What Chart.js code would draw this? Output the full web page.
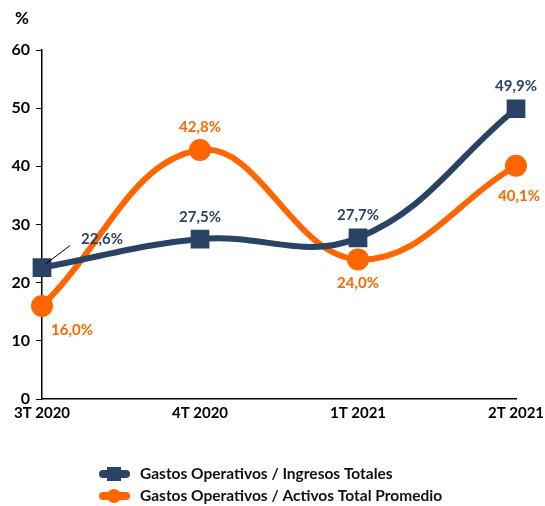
<!DOCTYPE html>
<html>
<head>
<meta charset="utf-8">
<script src="https://cdn.jsdelivr.net/npm/chart.js@4.4.1/dist/chart.umd.min.js"></script>
<style>
  html, body { margin: 0; padding: 0; background: #fff; }
  #wrap { width: 545px; height: 506px; }
</style>
</head>
<body>
<div id="wrap"><canvas id="chart" width="545" height="506"></canvas></div>
<script>
// Data
const categories = ['3T 2020', '4T 2020', '1T 2021', '2T 2021'];
const ingresosValues = [22.6, 27.5, 27.7, 49.9];
const activosValues = [16.0, 42.8, 24.0, 40.1];
const seriesNames = ['Gastos Operativos / Ingresos Totales', 'Gastos Operativos / Activos Total Promedio'];

const NAVY = '#2a4264';
const ORANGE = '#ff6600';
const FONT = 'Lato, "Open Sans", sans-serif';

// label offsets (px) for each point: [dx, dy]
const navyLabelOffsets = [[60, -28], [0, -22], [0, -23], [0, -23]];
const orangeLabelOffsets = [[30, 24], [0, -23], [0, 24], [3, 30]];

const fmt = v => v.toFixed(1).replace('.', ',') + '%';

// Draws value labels, the "%" axis title and the legend
const extrasPlugin = {
    id: 'extras',
    afterDatasetsDraw(chart) {
        const ctx = chart.ctx;
        ctx.save();
        ctx.font = 'bold 15px ' + FONT;
        ctx.textAlign = 'center';
        ctx.textBaseline = 'middle';

        const offsets = [navyLabelOffsets, orangeLabelOffsets];
        const colors = [NAVY, ORANGE];
        chart.data.datasets.forEach((ds, i) => {
            const meta = chart.getDatasetMeta(i);
            meta.data.forEach((pt, j) => {
                const [dx, dy] = offsets[i][j];
                ctx.fillStyle = colors[i];
                ctx.fillText(fmt(ds.data[j]), pt.x + dx, pt.y + dy);
            });
        });

        // leader line for first navy label
        const p0 = chart.getDatasetMeta(0).data[0];
        ctx.strokeStyle = '#000';
        ctx.lineWidth = 1;
        ctx.beginPath();
        ctx.moveTo(p0.x + 3, p0.y - 3);
        ctx.lineTo(p0.x + 28, p0.y - 22);
        ctx.stroke();

        // "%" title
        ctx.fillStyle = '#000';
        ctx.font = 'bold 17px ' + FONT;
        ctx.fillText('%', 22, 19);

        // legend
        const items = [
            { color: NAVY, name: seriesNames[0], square: true, y: 474 },
            { color: ORANGE, name: seriesNames[1], square: false, y: 496 }
        ];
        items.forEach(it => {
            ctx.strokeStyle = it.color;
            ctx.lineWidth = 8;
            ctx.lineCap = 'round';
            ctx.beginPath();
            ctx.moveTo(103, it.y);
            ctx.lineTo(126, it.y);
            ctx.stroke();
            ctx.fillStyle = it.color;
            if (it.square) {
                ctx.fillRect(107, it.y - 7, 14, 14);
            } else {
                ctx.beginPath();
                ctx.arc(114, it.y, 7, 0, Math.PI * 2);
                ctx.fill();
            }
            ctx.fillStyle = '#111';
            ctx.font = 'bold 15.5px ' + FONT;
            ctx.textAlign = 'left';
            ctx.fillText(it.name, 140, it.y);
        });
        ctx.restore();
    }
};

const ctx = document.getElementById('chart').getContext('2d');
const chart = new Chart(ctx, {
    type: 'line',
    data: {
        labels: categories,
        datasets: [{
            label: seriesNames[0],
            data: ingresosValues,
            borderColor: NAVY,
            backgroundColor: NAVY,
            borderWidth: 6,
            tension: 0.4,
            pointStyle: 'rect',
            pointRadius: 9,
            pointHoverRadius: 9,
            fill: false
        }, {
            label: seriesNames[1],
            data: activosValues,
            borderColor: ORANGE,
            backgroundColor: ORANGE,
            borderWidth: 6,
            tension: 0.4,
            pointStyle: 'circle',
            pointRadius: 8,
            pointHoverRadius: 8,
            fill: false
        }]
    },
    options: {
        responsive: false,
        animation: false,
        clip: false,
        layout: { padding: { left: 0, right: 29, top: 50, bottom: 80 } },
        plugins: {
            legend: { display: false },
            tooltip: { enabled: false }
        },
        scales: {
            x: {
                offset: false,
                grid: { display: false, drawTicks: false },
                border: { color: '#000', width: 1.5 },
                ticks: {
                    color: '#000',
                    font: { family: FONT, weight: 'bold', size: 15 },
                    padding: 5,
                    maxRotation: 0
                },
                afterFit(scale) {
                    scale.height = 27;
                    scale.paddingLeft = 0;
                    scale.paddingRight = 0;
                }
            },
            y: {
                min: 0,
                max: 60,
                grid: { drawOnChartArea: false, drawTicks: true, tickLength: 6, color: '#000' },
                border: { color: '#000', width: 1.5 },
                ticks: {
                    stepSize: 10,
                    color: '#000',
                    font: { family: FONT, weight: 'bold', size: 16 },
                    padding: 6
                },
                afterFit(scale) { scale.width = 42; }
            }
        }
    },
    plugins: [extrasPlugin]
});
</script>
</body>
</html>
